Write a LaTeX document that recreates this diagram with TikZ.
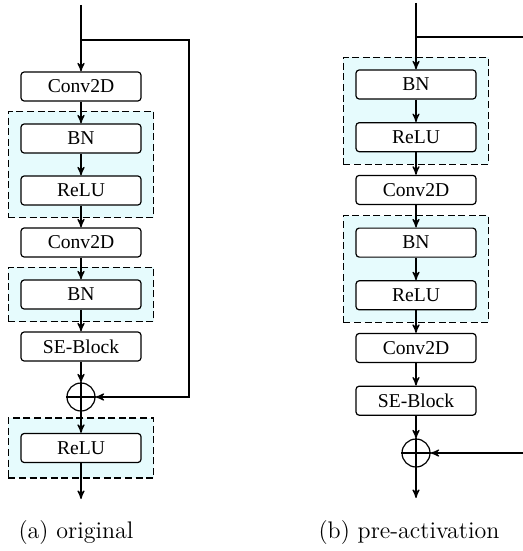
\documentclass[tikz,border=0pt]{standalone}
\usepackage{fontspec}
\newfontfamily\boxfont{Liberation Serif}
\usepackage{tikz}
\usetikzlibrary{arrows,positioning,fit,backgrounds}
\definecolor{actfill}{HTML}{E6FBFD}

\begin{document}
\begin{tikzpicture}[x=0.5pt,y=-0.5pt,>=stealth',line width=0.6pt,
    layer/.style={draw,rounded corners=1.6pt,fill=white,minimum width=60pt,
      minimum height=14.5pt,inner sep=0pt,font=\boxfont\fontsize{9.8}{11}\selectfont},
    sum/.style={draw,circle,minimum size=14pt,inner sep=0pt},
    actgroup/.style={draw,line width=0.7pt,dash pattern=on 3.5pt off 1.8pt,fill=actfill,inner xsep=6pt,inner ysep=6pt},
    caption/.style={font=\large}]
  \useasboundingbox (0,0) rectangle (523,551);

  % (a) original
  \begin{scope}[node distance=26pt]
  \node[layer] (c1) at (81,86.5) {Conv2D};
  \node[layer] (b1) [below of=c1] {BN};
  \node[layer] (r1) [below of=b1] {ReLU};
  \node[layer] (c2) [below of=r1] {Conv2D};
  \node[layer] (b2) [below of=c2] {BN};
  \node[layer] (se1) [below of=b2] {SE-Block};
  \node[sum] (s1) at (81,397) {};
  \node[layer] (r2) at (81,448) {ReLU};
  \end{scope}
  \coordinate (in1) at (81,5);
  \coordinate (sp1) at (81,40);
  \coordinate (out1) at (81,499);
  \begin{scope}[on background layer]
    \node[actgroup,fit=(b1)(r1)] {};
    \node[actgroup,fit=(b2)] {};
    \node[actgroup,fit=(r2),inner ysep=7.5pt] {};
  \end{scope}
  \draw (s1.north) -- (s1.south) (s1.west) -- (s1.east);
  \draw[->] (in1) -- (c1);
  \draw[->] (c1) -- (b1);
  \draw[->] (b1) -- (r1);
  \draw[->] (r1) -- (c2);
  \draw[->] (c2) -- (b2);
  \draw[->] (b2) -- (se1);
  \draw[->] (se1) -- (s1);
  \draw[->] (s1) -- (r2);
  \draw[->] (r2) -- (out1);
  \draw[->] (sp1) -- (189,40) |- (s1);
  \node[caption] (capa) at (76,533) {(a)~original};

  % (b) pre-activation
  \begin{scope}[node distance=26.35pt]
  \node[layer] (pb1) at (416,84.5) {BN};
  \node[layer] (pr1) [below of=pb1] {ReLU};
  \node[layer] (pc1) [below of=pr1] {Conv2D};
  \node[layer] (pb2) [below of=pc1] {BN};
  \node[layer] (pr2) [below of=pb2] {ReLU};
  \node[layer] (pc2) [below of=pr2] {Conv2D};
  \node[layer] (pse) [below of=pc2] {SE-Block};
  \node[sum] (ps) at (416,453) {};
  \end{scope}
  \coordinate (pin) at (416,3);
  \coordinate (psp) at (416,37);
  \coordinate (pright) at (523,37);
  \coordinate (pback) at (523,453);
  \coordinate (pout) at (416,498);
  \begin{scope}[on background layer]
    \node[actgroup,fit=(pb1)(pr1)] {};
    \node[actgroup,fit=(pb2)(pr2)] {};
  \end{scope}
  \draw (ps.north) -- (ps.south) (ps.west) -- (ps.east);
  \draw[->] (pin) -- (pb1);
  \draw[->] (pb1) -- (pr1);
  \draw[->] (pr1) -- (pc1);
  \draw[->] (pc1) -- (pb2);
  \draw[->] (pb2) -- (pr2);
  \draw[->] (pr2) -- (pc2);
  \draw[->] (pc2) -- (pse);
  \draw[->] (pse) -- (ps);
  \draw[->] (ps) -- (pout);
  \draw (psp) -- (pright);
  \draw[->] (pback) -- (ps);
  \node[caption] (capb) at (409,533) {(b)~pre-activation};
\end{tikzpicture}
\end{document}
